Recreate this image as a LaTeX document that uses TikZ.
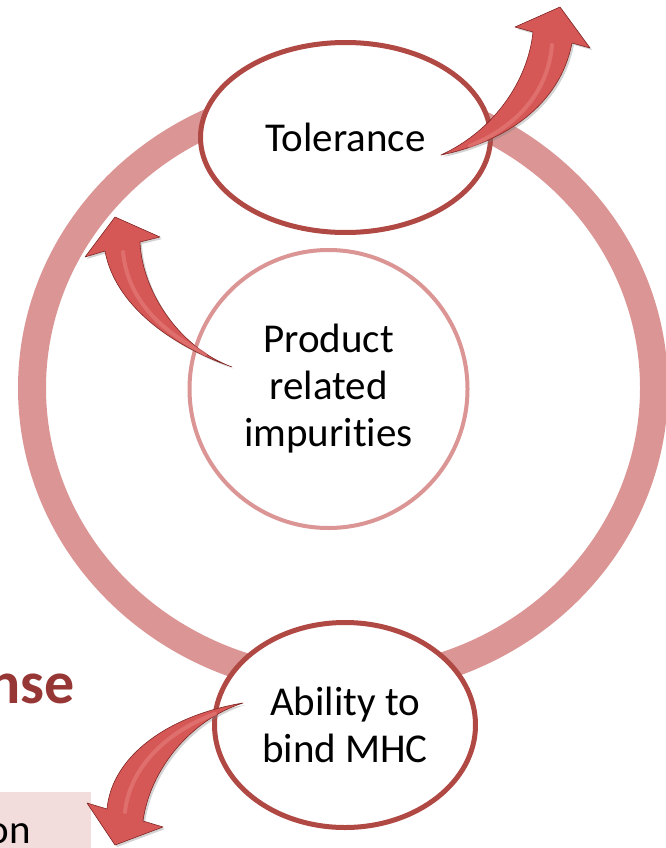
\documentclass[tikz,border=0pt]{standalone}
\usepackage{fontspec}
\setmainfont{Carlito}[Ligatures=NoCommon]
\usetikzlibrary{shapes.geometric,shadows}
\definecolor{ringPink}{RGB}{218,149,148}
\definecolor{rimRed}{RGB}{176,72,68}
\definecolor{arrowRed}{RGB}{214,88,86}
\definecolor{arrowLight}{RGB}{236,140,136}
\definecolor{arrowDark}{RGB}{128,38,36}
\definecolor{titleRed}{RGB}{150,55,53}
\definecolor{boxPink}{RGB}{242,221,220}
\tikzset{
  cycleNode/.style={ellipse,draw=rimRed,line width=5pt,fill=white,inner sep=0pt,align=center,
    font=\fontsize{41pt}{47pt}\selectfont},
  curlyArrow/.style={fill=arrowRed,draw=arrowDark,line width=.6pt,line join=round,
    drop shadow={opacity=.35,shadow xshift=2pt,shadow yshift=-2pt}},
  curlyShine/.style={draw=arrowLight,line width=4pt,line cap=round,opacity=.45}
}

\begin{document}
\begin{tikzpicture}[x=1pt,y=-1pt]
\path[use as bounding box] (0,0) rectangle (666,848);
\clip (0,0) rectangle (666,848);

% the cycle ring
\draw[ringPink,line width=28pt] (343,388) ellipse [x radius=311,y radius=294];

% cut-off parts of the slide
\fill[boxPink] (0,792) rectangle (91,848);
\node[anchor=base east,inner sep=0pt,font=\fontsize{41pt}{47pt}\selectfont] (onText) at (31,843) {on};
\node[anchor=base east,inner sep=0pt,text=titleRed,font=\bfseries\fontsize{60pt}{66pt}\selectfont] (nseText) at (75,703) {nse};

% the three stages
\node[cycleNode,minimum width=290pt,minimum height=190pt] (tolerance) at (345.5,137.5) {Tolerance};
\node[cycleNode,draw=ringPink,line width=4pt,minimum width=278pt,minimum height=278pt] (impurities) at (328.5,389) {Product\\related\\impurities};
\node[cycleNode,minimum width=261pt,minimum height=205pt] (mhc) at (345,725) {Ability to\\bind MHC};

% curved arrows
\path[curlyArrow] (441,155) .. controls (505,142) and (560,105) .. (572,43)
  -- (590,48) -- (560,7) -- (515,27) -- (533,32)
  .. controls (528,80) and (495,130) .. (441,155) -- cycle;
\draw[curlyShine] (470,146) .. controls (520,125) and (548,90) .. (552,45);

\path[curlyArrow] (232,367) .. controls (170,345) and (115,305) .. (105,251)
  -- (85,257) -- (115,217) -- (160,237) -- (140,242)
  .. controls (142,292) and (180,348) .. (232,367) -- cycle;
\draw[curlyShine] (205,354) .. controls (160,330) and (128,300) .. (123,252);

\path[curlyArrow] (243,703) .. controls (170,715) and (112,755) .. (107,809)
  -- (87,803) -- (115,845) -- (163,827) -- (143,821)
  .. controls (150,770) and (190,720) .. (243,703) -- cycle;
\draw[curlyShine] (215,714) .. controls (170,730) and (130,765) .. (125,812);
\end{tikzpicture}
\end{document}
